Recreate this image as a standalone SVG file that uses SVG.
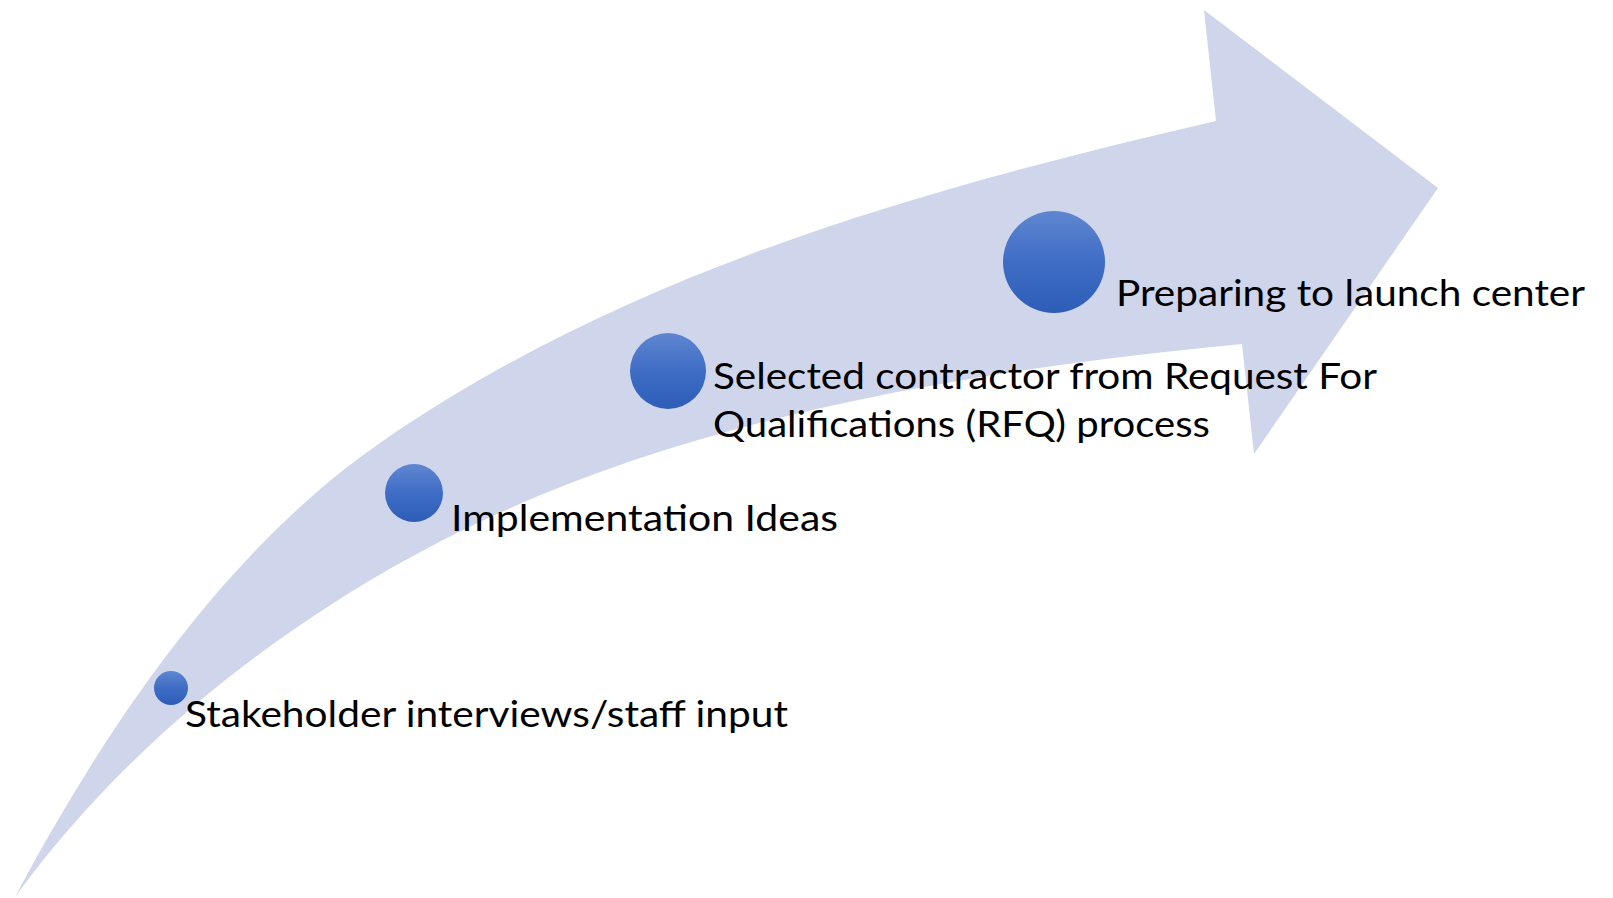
<svg xmlns="http://www.w3.org/2000/svg" width="1613" height="898" viewBox="0 0 1613 898">
  <defs>
    <linearGradient id="dotGrad" x1="0" y1="0" x2="0" y2="1">
      <stop offset="0" stop-color="#5F86D0"/>
      <stop offset="0.5" stop-color="#3F6DC6"/>
      <stop offset="1" stop-color="#2D5DB7"/>
    </linearGradient>
  </defs>
  <style>
    .arrow { fill: #CFD5EA; stroke: none; }
    .dot { fill: url(#dotGrad); }
    .lbl { font-family: Lato, "Open Sans", "Liberation Sans", sans-serif; font-size: 37px; fill: #000000; }
  </style>
  <rect x="0" y="0" width="1613" height="898" fill="#FFFFFF"/>
  <g id="connectors">
    <path class="arrow" d="M15,897 C104,730 224,551 380,443 C626,272 924,188.5 1216,121 L1204,10 L1438,188 L1254,454 L1242,344 C973,370 683,417 443,540 C278,625 124,747 15,897 Z"/>
  </g>
  <g id="node1">
    <circle class="dot" cx="171" cy="688" r="17"/>
    <text class="lbl" x="185" y="727" textLength="603" lengthAdjust="spacingAndGlyphs">Stakeholder interviews/staff input</text>
  </g>
  <g id="node2">
    <circle class="dot" cx="414" cy="493" r="29"/>
    <text class="lbl" x="451" y="531" textLength="387" lengthAdjust="spacingAndGlyphs">Implementation Ideas</text>
  </g>
  <g id="node3">
    <circle class="dot" cx="668" cy="371" r="38"/>
    <text class="lbl" x="713" y="389" textLength="664" lengthAdjust="spacingAndGlyphs">Selected contractor from Request For</text>
    <text class="lbl" x="713" y="437" textLength="497" lengthAdjust="spacingAndGlyphs">Qualifications (RFQ) process</text>
  </g>
  <g id="node4">
    <circle class="dot" cx="1054" cy="262" r="51"/>
    <text class="lbl" x="1116" y="306" textLength="469" lengthAdjust="spacingAndGlyphs">Preparing to launch center</text>
  </g>
</svg>
